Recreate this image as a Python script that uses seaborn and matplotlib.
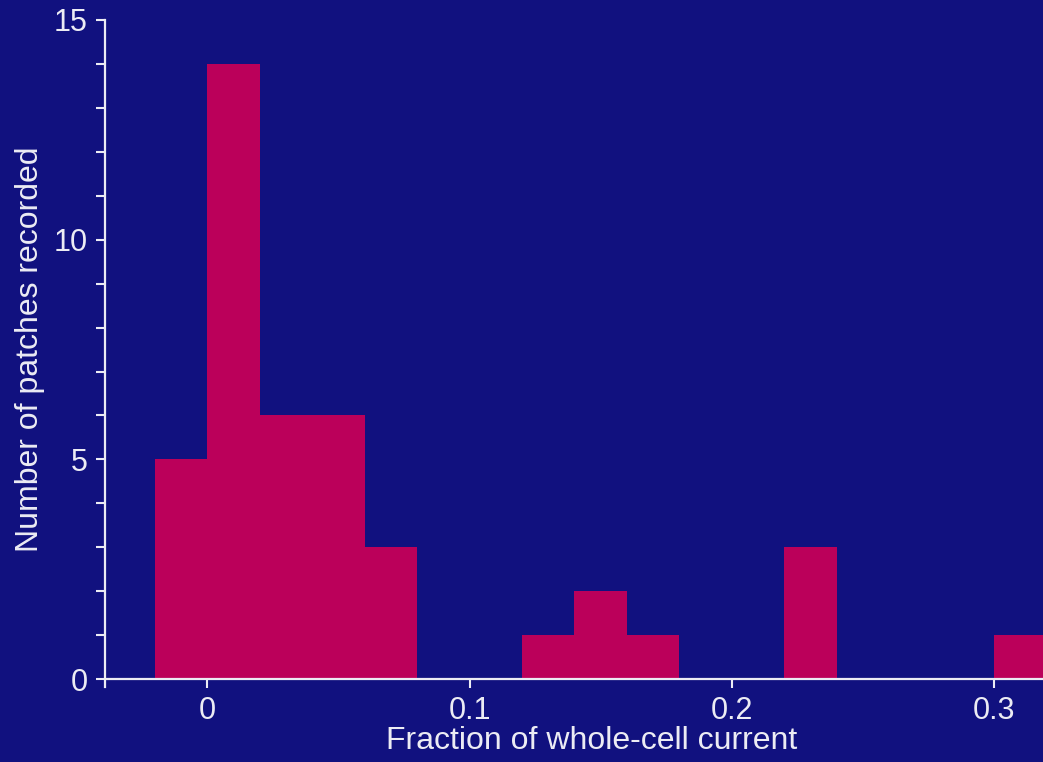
import numpy as np
import matplotlib
matplotlib.use("Agg")
import matplotlib.pyplot as plt
import seaborn as sns

# Histogram of single-patch currents as a fraction of the whole-cell current
bin_edges = [-0.02, 0.00, 0.02, 0.04, 0.06, 0.08, 0.10, 0.12, 0.14,
             0.16, 0.18, 0.20, 0.22, 0.24, 0.26, 0.28, 0.30, 0.32]
patch_counts = [5, 14, 6, 6, 3, 0, 0, 1, 2, 1, 0, 0, 3, 0, 0, 0, 1]
x_ticks = [0, 0.1, 0.2, 0.3]
x_tick_labels = ["0", "0.1", "0.2", "0.3"]
y_ticks = [0, 5, 10, 15]
y_tick_labels = ["0", "5", "10", "15"]

BG = "#11117f"
BAR = "#bb005a"
FG = "#ececf4"

sns.set_style("ticks")
plt.rcParams["font.family"] = ["Liberation Sans", "DejaVu Sans"]

fig = plt.figure(figsize=(10.43, 7.62), dpi=100, facecolor=BG)
ax = fig.add_axes([0.1007, 0.0984, 0.8993, 0.8754])
ax.set_facecolor(BG)

centers = [(a + b) / 2 for a, b in zip(bin_edges[:-1], bin_edges[1:])]
sns.histplot(x=centers, weights=patch_counts, bins=bin_edges, ax=ax,
             color=BAR, alpha=1, linewidth=0, edgecolor=BAR)

ax.set_xlim(-0.039, 0.3187)
ax.set_ylim(-0.18, 15)

for side in ("top", "right"):
    ax.spines[side].set_visible(False)
ax.spines["bottom"].set_position(("data", 0))
ax.spines["bottom"].set_color(FG)
ax.spines["left"].set_color(FG)
ax.spines["bottom"].set_linewidth(1.6)
ax.spines["left"].set_linewidth(1.6)
ax.spines["left"].set_bounds(-0.18, 15)

ax.set_xticks(x_ticks)
ax.set_xticklabels(x_tick_labels)
ax.set_yticks(y_ticks)
ax.set_yticklabels(y_tick_labels)
ax.set_yticks(range(0, 16), minor=True)
ax.tick_params(axis="both", which="both", colors=FG, labelcolor=FG,
               direction="out", width=1.5, length=6.5, labelsize=22, pad=6)
ax.tick_params(axis="x", which="minor", bottom=False)

ax.set_xlabel("Fraction of whole-cell current", color=FG, fontsize=23, labelpad=0)
ax.set_ylabel("Number of patches recorded", color=FG, fontsize=23, labelpad=6)
ax.xaxis.label.set_x(0.519)
ax.yaxis.label.set_y(0.507)

fig.savefig("out.png", dpi=100, facecolor=BG)
